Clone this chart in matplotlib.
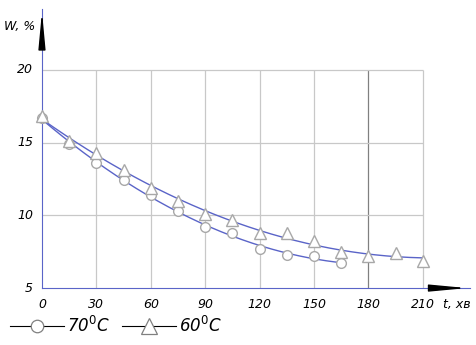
import numpy as np
import matplotlib
matplotlib.use('Agg')
import matplotlib.pyplot as plt
from matplotlib.lines import Line2D

# drying time, min
t70 = [0, 15, 30, 45, 60, 75, 90, 105, 120, 135, 150, 165]
w70 = [16.7, 14.9, 13.6, 12.4, 11.4, 10.3, 9.2, 8.8, 7.7, 7.3, 7.2, 6.7]
t60 = [0, 15, 30, 45, 60, 75, 90, 105, 120, 135, 150, 165, 180, 195, 210]
w60 = [16.8, 15.1, 14.3, 13.1, 11.9, 11.0, 10.1, 9.7, 8.8, 8.8, 8.2, 7.5, 7.2, 7.4, 6.85]

xticks = [0, 30, 60, 90, 120, 150, 180, 210]
yticks = [5, 10, 15, 20]
labels = ['70', '60']

font = dict(family='DejaVu Sans', style='italic', size=9)
lineColor = '#5a64c8'
markEdge = '#a8a8a8'

fig = plt.figure(figsize=(4.77, 3.45), dpi=100)
ax = fig.add_axes([0.088, 0.165, 0.897, 0.81])
ax.set_xlim(0, 236)
ax.set_ylim(5, 24.2)
for s in ['top', 'right']:
  ax.spines[s].set_visible(False)
ax.spines['left'].set_color(lineColor)
ax.spines['bottom'].set_color(lineColor)
ax.set_xticks([])
ax.set_yticks([])

# grid only inside the data field
for x in xticks[1:]:
  ax.vlines(x, 5, 20, color='#808080' if x == 180 else '#c8c8c8', lw=0.9, zorder=1)
for y in yticks[1:]:
  ax.hlines(y, 0, 210, color='#c8c8c8', lw=0.9, zorder=1)

# axis arrows
arrow = dict(arrowstyle='-|>,head_length=1.6,head_width=0.15', color='black', lw=1, mutation_scale=14)
ax.annotate('', xy=(236, 5), xytext=(220, 5), arrowprops=arrow, annotation_clip=False)
ax.annotate('', xy=(0, 24.2), xytext=(0, 22.4), arrowprops=arrow, annotation_clip=False)

# fitted curves
for t, w in [(t70, w70), (t60, w60)]:
  c = np.polyfit(t, w, 2)
  xx = np.linspace(0, t[-1], 200)
  ax.plot(xx, np.polyval(c, xx), color=lineColor, lw=1, zorder=2)

ax.plot(t70, w70, 'o', ms=7, mfc='white', mec=markEdge, mew=1, zorder=3, clip_on=False)
ax.plot(t60, w60, '^', ms=8, mfc='white', mec=markEdge, mew=1, zorder=3, clip_on=False)

for x in xticks:
  ax.text(x, 3.9, str(x), ha='center', va='center', **font)
for y in yticks:
  ax.text(-5, y, str(y), ha='right', va='center', **font)
ax.text(-3.5, 23.0, 'W, %', ha='right', va='center', **font)
ax.text(221, 3.9, 't, хв', ha='left', va='center', **font)

# legend under the chart
legFont = dict(family='DejaVu Sans', style='italic', size=12)
for x0, mk, ms, lab in [(0.02, 'o', 9, labels[0]), (0.255, '^', 11, labels[1])]:
  fig.add_artist(Line2D([x0, x0 + 0.115], [0.055, 0.055], color='black', lw=0.8, transform=fig.transFigure))
  fig.add_artist(Line2D([x0 + 0.058], [0.055], marker=mk, ms=ms, mfc='white', mec='#808080',
                        mew=0.9, transform=fig.transFigure))
  fig.text(x0 + 0.12, 0.055, lab + '$^{0}$C', ha='left', va='center', **legFont)

fig.savefig('out.png', dpi=100)
